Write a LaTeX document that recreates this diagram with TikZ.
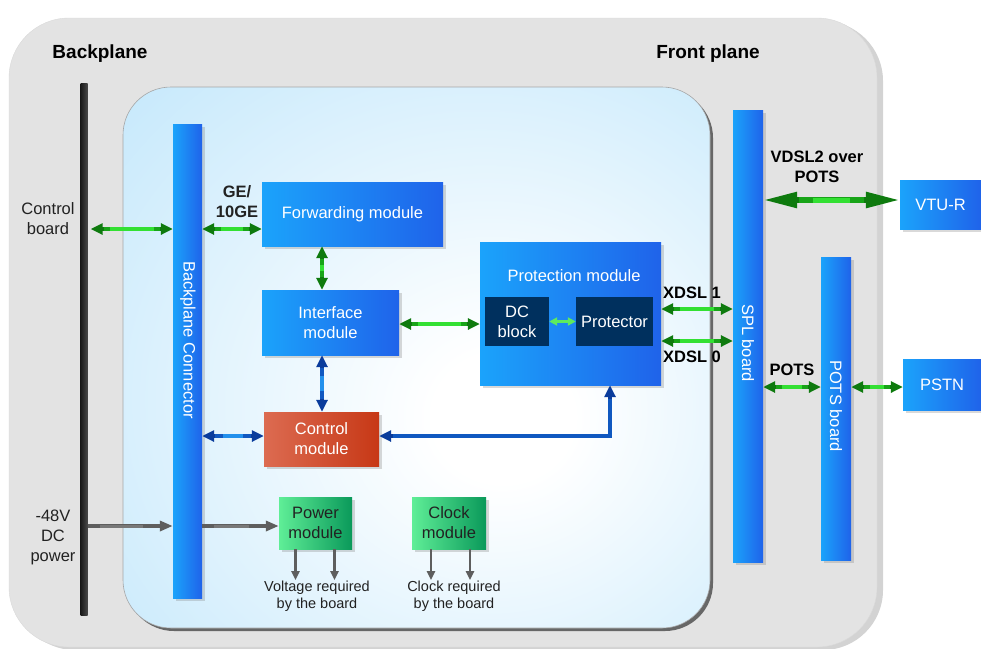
\documentclass[tikz,border=0pt]{standalone}
\usepackage{fontspec}
\setmainfont{Liberation Sans}
\usetikzlibrary{arrows.meta,shadows,calc}

\definecolor{bgA}{HTML}{E3E3E3}
\definecolor{ibl}{HTML}{BDE5FB}
\definecolor{blA}{HTML}{1BA3FB}
\definecolor{blB}{HTML}{1F63EA}
\definecolor{grA}{HTML}{5FEE97}
\definecolor{grB}{HTML}{0A995A}
\definecolor{orA}{HTML}{DC6B51}
\definecolor{orB}{HTML}{C73816}
\definecolor{navyb}{HTML}{00305E}
\definecolor{arG}{HTML}{0E7A0E}
\definecolor{arGm}{HTML}{18A418}
\definecolor{arGl}{HTML}{33E033}
\definecolor{arGx}{HTML}{5EEA5E}
\definecolor{arB}{HTML}{0A3C9C}
\definecolor{arBm}{HTML}{1058C0}
\definecolor{arBl}{HTML}{2290EC}
\definecolor{arK}{HTML}{5E5E5E}
\definecolor{arKl}{HTML}{787878}
\definecolor{txK}{HTML}{222222}

\pgfdeclareradialshading{innerglow}{\pgfpoint{8bp}{-6bp}}{color(0bp)=(white); color(6bp)=(white); color(46bp)=(ibl); color(80bp)=(ibl)}

\begin{document}
\begin{tikzpicture}[x=1pt,y=-1pt,
  font=\fontsize{16.5}{20}\selectfont,
  box/.style={rectangle, inner sep=0pt, align=center, text=white,
    drop shadow={shadow xshift=3pt,shadow yshift=-3pt,opacity=.3}},
  bluebox/.style={box, left color=blA, right color=blB},
  greenbox/.style={box, left color=grA, right color=grB, text=txK},
  orangebox/.style={box, left color=orA, right color=orB},
  navybox/.style={rectangle, inner sep=0pt, align=center, text=white, fill=navyb},
  bluebar/.style={box, left color=blA, right color=blB},
  lbl/.style={align=center, text=txK},
  blbl/.style={align=center, text=black, font=\bfseries\fontsize{16.5}{20}\selectfont},
  garr/.style={draw=arG, line width=4.5pt, >={Triangle[length=12pt,width=11pt]}, <->,
    postaction={draw=arGm, line width=4.5pt, arrows=-, shorten <=13pt, shorten >=13pt},
    postaction={draw=arGl, line width=4pt, arrows=-, shorten <=19pt, shorten >=19pt}},
  bigarr/.style={draw=arG, line width=5.5pt, >={Triangle[length=34pt,width=15pt]}, <->,
    postaction={draw=arGm, line width=5.5pt, arrows=-, shorten <=36pt, shorten >=36pt},
    postaction={draw=arGl, line width=5pt, arrows=-, shorten <=50pt, shorten >=50pt}},
  larr/.style={draw=arGx, line width=2.5pt, >={Triangle[length=8pt,width=8pt]}, <->},
  barr/.style={draw=arB, line width=4.5pt, >={Triangle[length=12pt,width=11pt]}, <->,
    postaction={draw=arBm, line width=4.5pt, arrows=-, shorten <=13pt, shorten >=13pt},
    postaction={draw=arBl, line width=3.5pt, arrows=-, shorten <=21pt, shorten >=21pt}},
  barrlong/.style={draw=arB, line width=4.5pt, >={Triangle[length=12pt,width=11pt]}, <->,
    postaction={draw=arBm, line width=3.5pt, arrows=-, shorten <=14pt, shorten >=14pt}},
  karr/.style={draw=arK, line width=3.5pt, >={Triangle[length=13pt,width=10pt]}, ->,
    postaction={draw=arKl, line width=3pt, arrows=-, shorten <=12pt, shorten >=30pt}},
  dkarr/.style={draw=arK, line width=2.5pt, >={Triangle[length=9pt,width=8pt]}, ->}
]
\useasboundingbox (0,0) rectangle (981,648);

% outer frame
\path[fill=bgA, draw=black!15, rounded corners=60pt,
  drop shadow={shadow xshift=6pt,shadow yshift=-3pt,opacity=.35}] (9,18) rectangle (877,647);

% inner board
\shade[shading=innerglow, draw=black!35, line width=.6pt, rounded corners=48pt,
  drop shadow={shadow xshift=3pt,shadow yshift=-3pt,opacity=.7,fill=black!80}] (123,87) rectangle (710,628);

% plane labels
\node[font=\bfseries\fontsize{19}{22}\selectfont] (bplbl) at (100,54) {Backplane};
\node[font=\bfseries\fontsize{19}{22}\selectfont] (fplbl) at (708,54) {Front plane};

% backplane line
\node[rectangle, inner sep=0pt, minimum width=7pt, minimum height=532pt,
  left color=black!90, right color=black!72] (bl) at (84,349) {};

% side labels
\node[lbl] (cbl) at (48,219) {Control\\board};
\node[lbl] (pwl) at (53,537) {-48V\\DC\\power};

% bars
\node[bluebar, minimum width=29pt, minimum height=474pt] (bpc) at (187.5,361) {};
\node[rotate=-90, text=white] (bpct) at (188,340) {Backplane Connector};
\node[bluebar, minimum width=30pt, minimum height=452pt] (spl) at (748,336) {};
\node[rotate=-90, text=white] (splt) at (748,343) {SPL board};
\node[bluebar, minimum width=30pt, minimum height=303pt] (pots) at (836,408.5) {};
\node[rotate=-90, text=white] (potst) at (836,406) {POTS board};

% modules
\node[bluebox, minimum width=181pt, minimum height=64pt] (fw) at (352.5,214) {Forwarding module};
\node[bluebox, minimum width=137pt, minimum height=65pt] (intf) at (330.5,322.5) {Interface\\module};
\node[bluebox, minimum width=181pt, minimum height=143pt] (prot) at (570.5,313.5) {};
\node[text=white] (protl) at (574,276) {Protection module};
\node[navybox, minimum width=64pt, minimum height=49pt] (dcb) at (517,321.5) {DC\\block};
\node[navybox, minimum width=77pt, minimum height=49pt] (ptr) at (614.5,321.5) {Protector};
\node[orangebox, minimum width=115pt, minimum height=54pt] (ctl) at (321.5,439) {Control\\module};
\node[greenbox, minimum width=73pt, minimum height=52pt] (pwr) at (315.5,523) {Power\\module};
\node[greenbox, minimum width=74pt, minimum height=52pt] (clk) at (449,523) {Clock\\module};
\node[bluebox, minimum width=81pt, minimum height=49pt] (vtur) at (940.5,204.5) {VTU-R};
\node[bluebox, minimum width=78pt, minimum height=51pt] (pstn) at (942,384.5) {PSTN};

% connector labels
\node[blbl, text=txK] (gel) at (237,202) {GE/\\10GE};
\node[blbl] (x1l) at (692,293) {XDSL 1};
\node[blbl] (x0l) at (692,357) {XDSL 0};
\node[blbl] (vdl) at (817,167) {VDSL2 over\\POTS};
\node[blbl] (ptl) at (792,370) {POTS};
\node[lbl, font=\fontsize{14.5}{16.5}\selectfont] (vrl) at (317,596) {Voltage required\\by the board};
\node[lbl, font=\fontsize{14.5}{16.5}\selectfont] (crl) at (454,596) {Clock required\\by the board};

% helper coordinates
\coordinate (yA) at (0,229);
\coordinate (yB) at (0,324);
\coordinate (yX1) at (0,309);
\coordinate (yX0) at (0,341);
\coordinate (yV) at (0,200);
\coordinate (yP) at (0,387);
\coordinate (yC) at (0,436);
\coordinate (yG) at (0,526);
\coordinate (xA) at (322,0);
\coordinate (xP) at (610,0);

% green connectors
\draw[garr] ([xshift=3pt]bl.east |- yA) -- (bpc.west |- yA);
\draw[garr] (bpc.east |- yA) -- (fw.west |- yA);
\draw[garr] (fw.south -| xA) -- (intf.north -| xA);
\draw[garr] (intf.east |- yB) -- (prot.west |- yB);
\draw[larr] (dcb.east) -- (ptr.west);
\draw[garr] (prot.east |- yX1) -- (spl.west |- yX1);
\draw[garr] (prot.east |- yX0) -- (spl.west |- yX0);
\draw[bigarr] (spl.east |- yV) -- (vtur.west |- yV);
\draw[garr] (spl.east |- yP) -- (pots.west |- yP);
\draw[garr] (pots.east |- yP) -- (pstn.west |- yP);

% blue connectors
\draw[barr] (intf.south -| xA) -- (ctl.north -| xA);
\draw[barr] (bpc.east |- yC) -- (ctl.west |- yC);
\draw[barrlong] (prot.south -| xP) |- (ctl.east |- yC);

% gray connectors
\draw[karr] (bl.east |- yG) -- (bpc.west |- yG);
\draw[karr] (bpc.east |- yG) -- (pwr.west |- yG);
\draw[dkarr] ([xshift=-20pt]pwr.south) -- ++(0,31);
\draw[dkarr] ([xshift=19pt]pwr.south) -- ++(0,31);
\draw[dkarr] ([xshift=-18pt]clk.south) -- ++(0,31);
\draw[dkarr] ([xshift=21pt]clk.south) -- ++(0,31);
\end{tikzpicture}
\end{document}
